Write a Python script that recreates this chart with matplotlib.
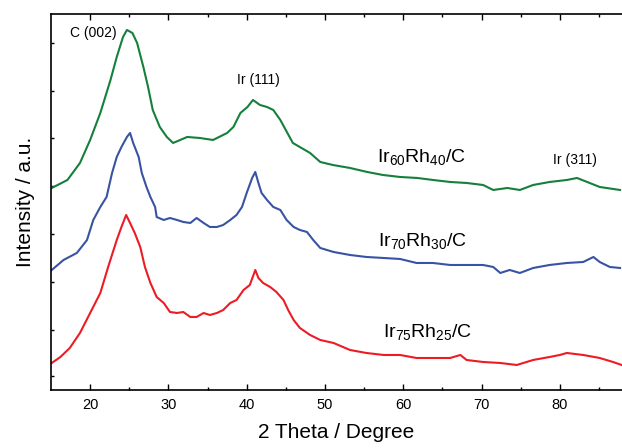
import matplotlib
matplotlib.use("Agg")
import matplotlib.pyplot as plt

plt.rcParams["font.family"] = ["Liberation Sans", "DejaVu Sans"]
plt.rcParams["mathtext.fontset"] = "custom"
plt.rcParams["mathtext.rm"] = "Liberation Sans"
plt.rcParams["mathtext.it"] = "Liberation Sans:italic"

# ---- data (intensity in arbitrary, offset units) ----
green_2theta = [15.1, 17.1, 18.7, 20.0, 21.3, 22.6, 23.4, 24.2, 24.7, 25.4,
                26.0, 26.8, 27.4, 28.0, 28.9, 29.8, 30.6, 32.4, 34.0, 35.7,
                37.5, 38.3, 39.2, 40.1, 40.8, 41.7, 42.6, 43.4, 44.3, 45.2,
                45.9, 48.1, 49.4, 51.0, 53.2, 55.4, 57.4, 59.6, 61.8, 63.8,
                66.0, 68.1, 70.2, 71.5, 73.3, 74.9, 76.6, 78.7, 80.9, 82.2,
                83.5, 85.1, 87.7]
green_int = [202, 210, 227, 250, 277, 310, 333, 353, 360, 357,
             347, 323, 303, 280, 263, 253, 247, 253, 252, 250,
             257, 263, 277, 283, 290, 285, 283, 280, 270, 257,
             247, 237, 228, 225, 222, 218, 215, 213, 212, 210,
             208, 207, 205, 200, 202, 200, 205, 208, 210, 212,
             208, 203, 200]

blue_2theta = [15.1, 16.6, 18.3, 19.6, 20.4, 21.3, 22.1, 22.8, 23.4, 24.0,
               24.7, 25.1, 25.5, 26.2, 26.6, 27.2, 27.7, 28.3, 28.5, 29.4,
               30.2, 31.1, 31.9, 32.8, 33.6, 34.5, 35.3, 36.2, 37.0, 37.9,
               38.7, 39.4, 40.0, 40.7, 41.1, 41.5, 41.9, 42.6, 43.4, 44.3,
               45.1, 46.0, 46.8, 47.7, 48.5, 49.4, 51.1, 53.2, 55.3, 57.5,
               59.6, 61.7, 63.8, 66.0, 68.1, 70.2, 71.5, 72.4, 73.6, 74.9,
               76.6, 78.7, 80.9, 83.0, 84.3, 85.1, 86.4, 87.7]
blue_int = [120, 130, 137, 150, 170, 183, 193, 217, 233, 243,
            253, 257, 247, 233, 217, 203, 193, 183, 173, 170,
            172, 170, 168, 167, 172, 167, 163, 163, 165, 170,
            175, 183, 197, 212, 218, 207, 197, 190, 183, 180,
            170, 163, 160, 158, 150, 142, 138, 135, 133, 132,
            131, 127, 127, 125, 125, 125, 123, 117, 120, 117,
            122, 125, 127, 128, 133, 128, 123, 122]

red_2theta = [15.1, 16.2, 17.4, 18.7, 20.0, 21.3, 22.3, 23.4, 24.0, 24.6,
              25.1, 25.7, 26.4, 27.0, 27.7, 28.5, 29.4, 30.2, 31.1, 31.9,
              32.8, 33.6, 34.5, 35.3, 36.2, 37.0, 37.9, 38.7, 39.6, 40.4,
              41.1, 41.5, 42.1, 43.0, 43.8, 44.7, 45.3, 46.0, 46.8, 48.1,
              49.4, 51.1, 53.2, 55.3, 57.5, 59.6, 61.7, 63.8, 66.0, 67.3,
              68.1, 70.2, 72.4, 74.5, 76.6, 78.7, 80.0, 80.9, 83.0, 85.1,
              86.8, 87.9]
red_int = [27, 33, 42, 57, 77, 97, 123, 150, 163, 175,
           167, 157, 143, 123, 107, 93, 87, 78, 77, 78,
           73, 73, 77, 75, 77, 80, 87, 90, 100, 105,
           120, 112, 107, 103, 98, 90, 80, 70, 62, 55,
           50, 47, 40, 37, 35, 35, 32, 32, 32, 35,
           30, 28, 27, 25, 30, 33, 35, 37, 35, 32,
           28, 25]

sample_labels = [r"Ir$_{60}$Rh$_{40}$/C", r"Ir$_{70}$Rh$_{30}$/C",
                 r"Ir$_{75}$Rh$_{25}$/C"]
sample_label_pos = [(56.65, 228), (56.8, 144), (57.4, 53)]
peak_labels = ["C (002)", "Ir (111)", "Ir (311)"]
peak_label_pos = [(20.4, 357), (41.5, 310), (82.0, 230)]

# ============================== PLOT ===================================
fig = plt.figure(figsize=(6.22, 4.48), dpi=100)
ax = fig.add_axes([0.082, 0.1295, 0.918, 0.8393])

ax.plot(green_2theta, green_int, color="#14803c", lw=1.5)
ax.plot(blue_2theta, blue_int, color="#3953a4", lw=1.5)
ax.plot(red_2theta, red_int, color="#ed1c24", lw=1.5)

for txt, (x, y) in zip(sample_labels, sample_label_pos):
    ax.text(x, y, txt, fontsize=14, ha="left", va="baseline")
for txt, (x, y) in zip(peak_labels, peak_label_pos):
    ax.text(x, y, txt, fontsize=10, ha="center", va="center")

ax.set_xlim(15, 87.95)
ax.set_ylim(0, 376)
ax.set_xticks([20, 30, 40, 50, 60, 70, 80])
ax.set_xticks([25, 35, 45, 55, 65, 75, 85], minor=True)
ax.set_yticks([14, 60, 108, 156, 204, 252, 299, 347])
ax.set_yticklabels([])
ax.tick_params(axis="x", which="major", direction="in", length=4, width=1,
               top=True, labelsize=10.5, pad=6)
ax.tick_params(axis="x", which="minor", direction="in", length=2.5, width=1,
               top=True)
ax.tick_params(axis="y", which="major", direction="in", length=2.5, width=1)
ax.spines["right"].set_visible(False)
for s in ("left", "top", "bottom"):
    ax.spines[s].set_linewidth(1.2)

ax.set_xlabel("2 Theta / Degree", fontsize=15, labelpad=8)
ax.set_ylabel("Intensity / a.u.", fontsize=15, labelpad=8)

fig.savefig("out.png", dpi=100)
